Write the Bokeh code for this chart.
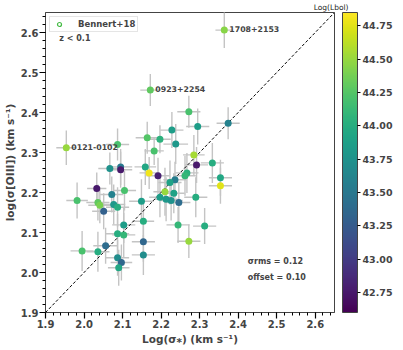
import numpy as np
from bokeh.plotting import figure
from bokeh.models import (ColumnDataSource, ColorBar, LinearColorMapper, FixedTicker, Label,
                          Legend, LegendItem, NumeralTickFormatter, Title)
from bokeh.palettes import Viridis256
from bokeh.embed import file_html
from bokeh.resources import INLINE

# ---- data ----
sigma_star = [1.954, 2.172, 2.364, 2.087, 2.164, 2.197, 2.182, 2.228, 2.238, 2.272,
              2.295, 2.374, 2.285, 2.292, 2.333, 2.067, 2.095, 2.095, 2.159, 2.169,
              2.192, 2.354, 2.354, 2.267, 2.262, 2.236, 2.223, 2.233, 2.210, 2.197,
              2.213, 2.226, 2.290, 2.033, 2.072, 2.105, 1.982, 2.036, 2.041, 2.051,
              2.077, 2.087, 2.149, 2.154, 2.103, 2.087, 2.103, 2.154, 2.056, 1.995,
              2.036, 2.154, 2.087, 2.097, 2.090, 2.246, 2.244, 2.313, 2.272]
sigma_oiii = [2.312, 2.456, 2.606, 2.320, 2.337, 2.333, 2.304, 2.356, 2.321, 2.402,
              2.365, 2.373, 2.294, 2.269, 2.274, 2.260, 2.264, 2.257, 2.264, 2.249,
              2.242, 2.237, 2.217, 2.249, 2.242, 2.232, 2.225, 2.198, 2.202, 2.188,
              2.183, 2.180, 2.188, 2.210, 2.195, 2.205, 2.180, 2.175, 2.168, 2.153,
              2.170, 2.163, 2.178, 2.128, 2.119, 2.097, 2.094, 2.077, 2.067, 2.054,
              2.052, 2.044, 2.037, 2.025, 2.012, 2.175, 2.119, 2.116, 2.078]
log_lbol = [44.50, 44.30, 44.45, 44.20, 44.25, 44.05, 44.20, 43.85, 43.80, 44.20,
            43.85, 43.60, 44.55, 42.75, 44.00, 43.75, 43.50, 42.75, 43.95, 44.80,
            42.80, 43.95, 44.75, 44.05, 44.10, 43.55, 43.90, 43.90, 44.50, 43.85,
            43.80, 43.75, 44.00, 42.75, 43.60, 44.20, 44.20, 44.30, 44.40, 43.30,
            43.80, 44.00, 43.85, 44.00, 43.85, 44.00, 44.10, 43.35, 43.40, 44.20,
            44.00, 43.70, 43.70, 43.35, 43.95, 43.40, 44.10, 44.00, 44.50]
err_star = [0.026, 0.026, 0.023, 0.030, 0.030, 0.028, 0.025, 0.030, 0.032, 0.030,
            0.030, 0.030, 0.028, 0.030, 0.030, 0.030, 0.030, 0.030, 0.028, 0.025,
            0.030, 0.030, 0.030, 0.030, 0.028, 0.030, 0.030, 0.028, 0.030, 0.028,
            0.030, 0.030, 0.030, 0.025, 0.030, 0.030, 0.028, 0.030, 0.030, 0.030,
            0.030, 0.030, 0.032, 0.028, 0.030, 0.030, 0.030, 0.030, 0.032, 0.030,
            0.030, 0.030, 0.030, 0.028, 0.028, 0.030, 0.030, 0.030, 0.030]
err_oiii = [0.043, 0.040, 0.045, 0.040, 0.040, 0.035, 0.035, 0.045, 0.050, 0.040,
            0.045, 0.040, 0.050, 0.045, 0.050, 0.040, 0.045, 0.045, 0.045, 0.040,
            0.045, 0.045, 0.045, 0.050, 0.050, 0.045, 0.055, 0.050, 0.060, 0.050,
            0.055, 0.050, 0.050, 0.040, 0.045, 0.050, 0.045, 0.045, 0.045, 0.045,
            0.050, 0.050, 0.055, 0.050, 0.045, 0.050, 0.055, 0.050, 0.045, 0.050,
            0.050, 0.050, 0.045, 0.045, 0.045, 0.050, 0.045, 0.045, 0.042]
label_names = ["0121-0102", "0923+2254", "1708+2153"]
label_index = [0, 1, 2]
cbar_ticks = [42.75, 43.00, 43.25, 43.50, 43.75, 44.00, 44.25, 44.50, 44.75]
axis_ticks = [1.9, 2.0, 2.1, 2.2, 2.3, 2.4, 2.5, 2.6]

FONT = "DejaVu Sans"
FW, FH = 289, 300
CB_GAP = 8

x = np.array(sigma_star); y = np.array(sigma_oiii)
ex = np.array(err_star); ey = np.array(err_oiii)
src = ColumnDataSource(dict(x=x, y=y, lbol=log_lbol,
                            xl=x - ex, xh=x + ex, yl=y - ey, yh=y + ey))

p = figure(frame_width=FW, frame_height=FH, output_backend="svg", toolbar_location=None,
           x_range=(1.9, 2.65), y_range=(1.9, 2.65),
           min_border_left=39, min_border_top=11, min_border_bottom=20, min_border_right=59)
p.title = Title(text="Log(Lbol)", align="right", offset=-14, text_font=FONT,
                text_font_size="7.5px", text_font_style="normal", standoff=1,
                text_color="#222222")
p.grid.visible = False
p.outline_line_color = "#444444"
p.outline_line_width = 1

# error bars
p.segment(x0="xl", y0="y", x1="xh", y1="y", source=src, line_color="#c4c4c4", line_width=1.4)
p.segment(x0="x", y0="yl", x1="x", y1="yh", source=src, line_color="#c4c4c4", line_width=1.4)

# 1:1 line
p.line(x=[1.9, 2.65], y=[1.9, 2.65], line_color="black", line_dash="3 2", line_width=1)

mapper = LinearColorMapper(palette=Viridis256, low=42.6, high=44.85)
p.scatter(x="x", y="y", source=src, size=7,
          fill_color={"field": "lbol", "transform": mapper}, line_color=None)

# legend dummy (point lies outside the visible range)
dummy = p.scatter(x=[0.0], y=[0.0], size=7, fill_color=None, line_color="#44bb44", line_width=1.2)
legend = Legend(items=[LegendItem(label="Bennert+18", renderers=[dummy])], location="top_left",
                label_text_font=FONT, label_text_font_style="bold", label_text_font_size="8.5px",
                border_line_color="#cccccc", padding=2, margin=4, spacing=0,
                glyph_width=14, glyph_height=10, label_standoff=12, label_height=10)
p.add_layout(legend)

# point labels
for i, name in zip(label_index, label_names):
    p.add_layout(Label(x=sigma_star[i], y=sigma_oiii[i], text=name, x_offset=5, y_offset=-2,
                       text_font=FONT, text_font_style="bold", text_font_size="7.8px"))

p.add_layout(Label(x=1.936, y=2.573, text="z < 0.1", text_font=FONT,
                   text_font_style="bold", text_font_size="8px"))
p.add_layout(Label(x=2.425, y=2.016, text="σrms =  0.12", text_font=FONT,
                   text_font_style="bold", text_font_size="8px"))
p.add_layout(Label(x=2.425, y=1.977, text="offset =  0.10", text_font=FONT,
                   text_font_style="bold", text_font_size="8px"))

# axes
for ax in (p.xaxis[0], p.yaxis[0]):
    ax.ticker = FixedTicker(ticks=axis_ticks,
                            minor_ticks=[round(1.9 + 0.02 * k, 2) for k in range(38)])
    ax.formatter = NumeralTickFormatter(format="0.0")
    ax.major_label_text_font = FONT
    ax.major_label_text_font_style = "bold"
    ax.major_label_text_font_size = "10px"
    ax.axis_label_text_font = FONT
    ax.axis_label_text_font_style = "bold"
    ax.axis_label_text_font_size = "10.5px"
    ax.major_tick_out = 6
    ax.major_tick_in = 0
    ax.minor_tick_out = 3
    ax.minor_tick_in = 0
    ax.major_tick_line_width = 1.2
    ax.axis_line_color = "#444444"
    ax.major_label_standoff = 1
    ax.axis_label_standoff = 2
p.xaxis.axis_label = "Log(σ⁎) (km s⁻¹)"
p.yaxis.axis_label = "log(σ[OIII]) (km s⁻¹)"

cb = ColorBar(color_mapper=mapper, width=15, height=FH, location=(FW + CB_GAP, 0),
              ticker=FixedTicker(ticks=cbar_ticks), major_label_overrides={t: f"{t:.2f}" for t in cbar_ticks},
              major_label_text_font=FONT, major_label_text_font_style="bold",
              major_label_text_font_size="9.5px",
              major_tick_out=3, major_tick_in=0, major_tick_line_color="black",
              bar_line_color="#444444", padding=0, margin=0, label_standoff=2,
              background_fill_alpha=0, border_line_color=None)
p.add_layout(cb)

open("out.html", "w").write(file_html(p, INLINE))
